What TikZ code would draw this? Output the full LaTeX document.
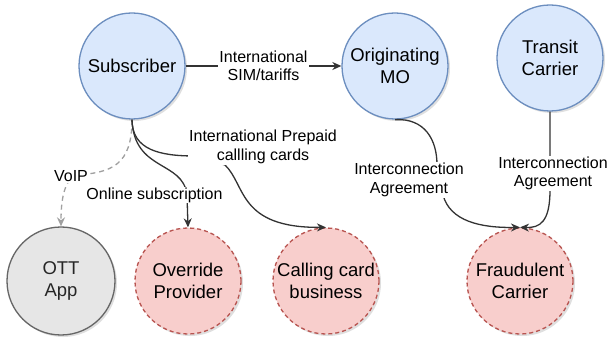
\documentclass[tikz,border=0pt]{standalone}
\usepackage{fontspec}
\setmainfont{Liberation Sans}
\usetikzlibrary{arrows.meta,shadows}
\definecolor{bluefill}{HTML}{DAE8FC}
\definecolor{bluedraw}{HTML}{6C8EBF}
\definecolor{redfill}{HTML}{F8CECC}
\definecolor{reddraw}{HTML}{B85450}
\definecolor{grayfill}{HTML}{E6E6E6}
\definecolor{graydraw}{HTML}{666666}
\definecolor{edgecol}{HTML}{333333}
\definecolor{dashcol}{HTML}{A0A0A0}
\tikzset{
  ent/.style={circle, minimum size=106pt, inner sep=0pt, line width=1.3pt, align=center,
    font=\fontsize{18.5}{22}\selectfont,
    drop shadow={shadow xshift=2pt, shadow yshift=-2pt, opacity=0.25, fill=black!50}},
  bluenode/.style={ent, fill=bluefill, draw=bluedraw},
  rednode/.style={ent, fill=redfill, draw=reddraw, dash pattern=on 4pt off 3pt},
  graynode/.style={ent, fill=grayfill, draw=graydraw, minimum size=108pt, text=black!85},
  elabel/.style={fill=white, inner sep=1pt, align=center, font=\fontsize{16}{18.5}\selectfont},
  conn/.style={draw=edgecol, line width=1.3pt, -{Stealth[length=9pt,width=8pt]}},
  dconn/.style={draw=dashcol, line width=1.3pt, dash pattern=on 5pt off 4pt, -{Stealth[length=9pt,width=8pt]}}
}
\begin{document}
\begin{tikzpicture}[x=1pt,y=-1pt]
\useasboundingbox[fill=white] (0,0) rectangle (608,339);
% top row
\node[bluenode] (sub) at (132,66) {Subscriber};
\node[bluenode] (mo) at (395,66) {Originating\\MO};
\node[bluenode] (transit) at (550,58) {Transit\\Carrier};
% bottom row
\node[graynode] (ott) at (61,281) {OTT\\App};
\node[rednode] (override) at (188,281) {Override\\Provider};
\node[rednode] (calling) at (326,281) {Calling card\\business};
\node[rednode] (fraud) at (520,281) {Fraudulent\\Carrier};
% connectors
\draw[conn] (sub.east) -- (mo.west);
\draw[dconn] (sub.south) .. controls (132,165) and (112,173) .. (75,175)
  .. controls (64,182) and (61,200) .. (ott.north);
\draw[conn] (sub.south) .. controls (134,172) and (183,160) .. (187,195) -- (override.north);
\draw[conn] (sub.south) .. controls (132,150) and (160,156) .. (195,156) -- (225,165)
  .. controls (246,185) and (238,228) .. (calling.north);
\draw[conn] (mo.south) .. controls (425,118) and (437,140) .. (437,165) -- (443,195)
  .. controls (450,221) and (480,228) .. (fraud.north);
\draw[conn] (transit.south) -- (550,190) .. controls (550,222) and (540,228) .. (fraud.north);
% labels
\node[elabel] (lsim) at (263.5,66) {International\\SIM/tariffs};
\node[elabel] (lcards) at (263,147) {International Prepaid\\callling cards};
\node[elabel] (lvoip) at (71,176) {VoIP};
\node[elabel] (lonline) at (154.5,195) {Online subscription};
\node[elabel] (lic1) at (409,180) {Interconnection\\Agreement};
\node[elabel] (lic2) at (553,173.5) {Interconnection\\Agreement};
\end{tikzpicture}
\end{document}
